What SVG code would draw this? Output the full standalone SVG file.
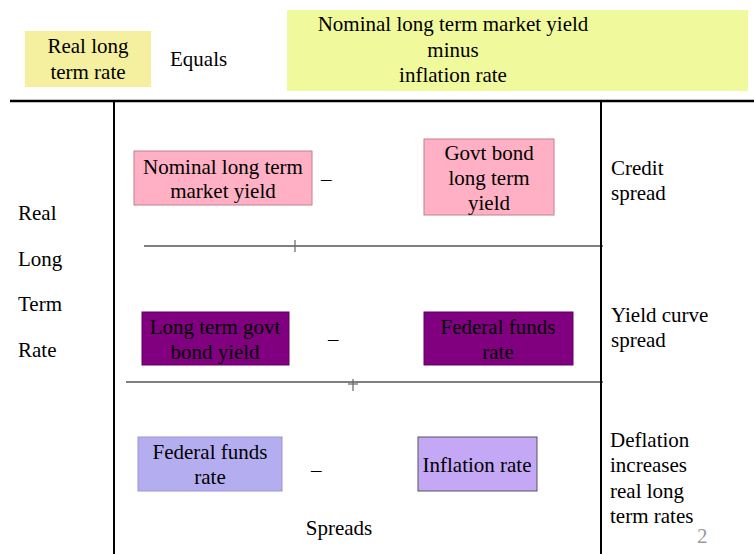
<svg xmlns="http://www.w3.org/2000/svg" width="754" height="554" viewBox="0 0 754 554" font-family="'Liberation Serif', 'Times New Roman', Times, serif">
<style>
text{font-size:21px;fill:#000}
.c{text-anchor:middle}
.ln{stroke:#000;fill:none}
.tk{stroke:#666;stroke-width:1.2;fill:none}
.pk{fill:#ffb0c4;stroke:#c08090;stroke-width:1}
.pu{fill:#800080;stroke:#600060;stroke-width:1}
.lv{fill:#b4aef0;stroke:#9a94d0;stroke-width:1}
.lv2{fill:#c4a8f6;stroke:#555;stroke-width:1}
</style>
<rect width="754" height="554" fill="#fff"/>
<g id="connectors">
<line class="ln" x1="10" y1="101" x2="754" y2="101" stroke-width="2.5"/>
<line class="ln" x1="114" y1="101" x2="114" y2="554" stroke-width="2"/>
<line class="ln" x1="601" y1="101" x2="601" y2="554" stroke-width="2"/>
<line class="ln" x1="144" y1="246" x2="603" y2="246" stroke-width="1.2"/>
<line class="tk" x1="295" y1="240" x2="295" y2="252"/>
<line class="ln" x1="126" y1="382" x2="603" y2="382" stroke-width="1.2"/>
<line class="tk" x1="353" y1="379" x2="353" y2="391"/>
<line class="tk" x1="348" y1="384" x2="358" y2="384"/>
</g>
<g id="real-long-term-rate">
<rect x="25" y="31" width="126" height="56" fill="#f5f0a0"/>
<text class="c" x="88" y="53">Real long</text>
<text class="c" x="88" y="79">term rate</text>
</g>
<g id="equals"><text x="170" y="66">Equals</text></g>
<g id="nominal-minus-inflation">
<rect x="287" y="10" width="461" height="81" fill="#f0fa9c"/>
<text class="c" x="453" y="31">Nominal long term market yield</text>
<text class="c" x="453" y="57">minus</text>
<text class="c" x="453" y="82">inflation rate</text>
</g>
<g id="left-label">
<text x="18" y="220">Real</text>
<text x="18" y="266">Long</text>
<text x="18" y="311">Term</text>
<text x="18" y="357">Rate</text>
</g>
<g id="nominal-long-term">
<rect class="pk" x="134" y="151" width="178" height="54"/>
<text class="c" x="223" y="174">Nominal long term</text>
<text class="c" x="223" y="198">market yield</text>
</g>
<g id="minus1"><text x="321" y="186">–</text></g>
<g id="govt-bond">
<rect class="pk" x="424" y="139" width="130" height="76"/>
<text class="c" x="489" y="160">Govt bond</text>
<text class="c" x="489" y="185">long term</text>
<text class="c" x="489" y="210">yield</text>
</g>
<g id="credit-spread">
<text x="611" y="175">Credit</text>
<text x="611" y="200">spread</text>
</g>
<g id="long-term-govt">
<rect class="pu" x="142" y="312" width="147" height="53"/>
<text class="c" x="215" y="334">Long term govt</text>
<text class="c" x="215" y="359">bond yield</text>
</g>
<g id="minus2"><text x="328" y="346">–</text></g>
<g id="fed-funds-1">
<rect class="pu" x="424" y="312" width="149" height="53"/>
<text class="c" x="498" y="334">Federal funds</text>
<text class="c" x="498" y="359">rate</text>
</g>
<g id="yield-curve-spread">
<text x="611" y="322">Yield curve</text>
<text x="611" y="347">spread</text>
</g>
<g id="fed-funds-2">
<rect class="lv" x="138" y="437" width="144" height="54"/>
<text class="c" x="210" y="459">Federal funds</text>
<text class="c" x="210" y="484">rate</text>
</g>
<g id="minus3"><text x="311" y="477">–</text></g>
<g id="inflation-rate">
<rect class="lv2" x="418" y="437" width="119" height="54"/>
<text class="c" x="477" y="472">Inflation rate</text>
</g>
<g id="deflation">
<text x="610" y="447">Deflation</text>
<text x="610" y="472">increases</text>
<text x="610" y="498">real long</text>
<text x="610" y="523">term rates</text>
</g>
<g id="spreads"><text class="c" x="339" y="535">Spreads</text></g>
<g id="page"><text x="697" y="543" style="fill:#999">2</text></g>
</svg>
